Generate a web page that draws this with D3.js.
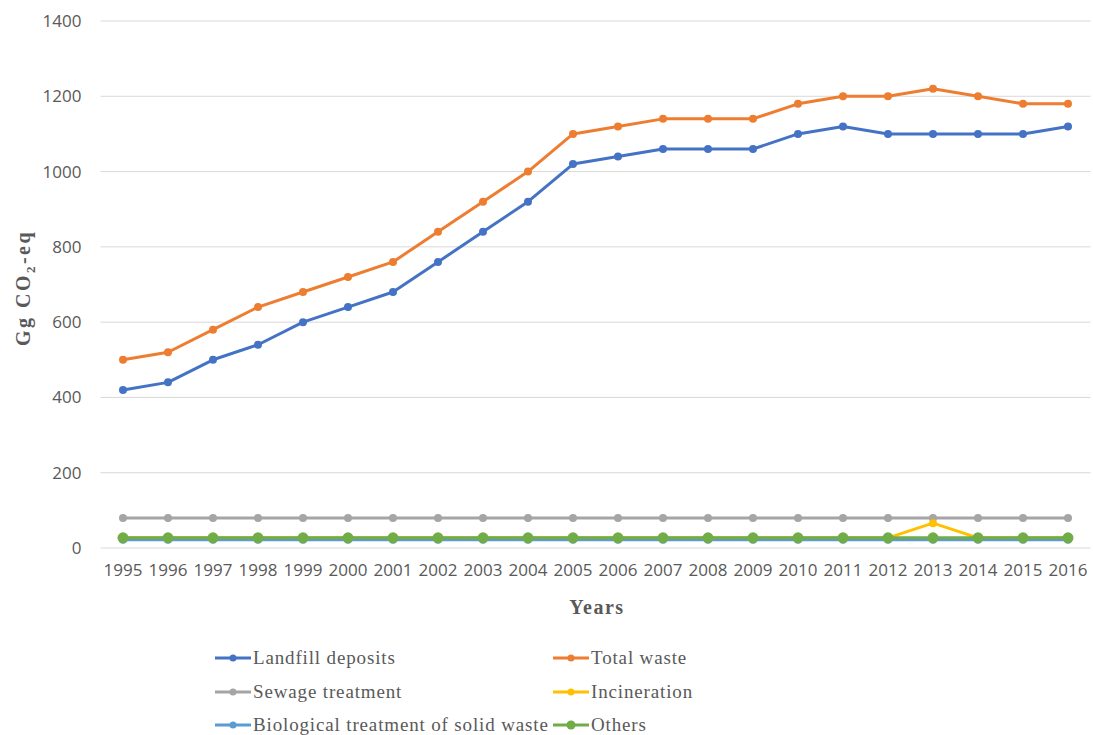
<!DOCTYPE html>
<html>
<head>
<meta charset="utf-8">
<script src="https://cdn.jsdelivr.net/npm/d3@7"></script>
<style>
  body { margin: 0; background: #fff; }
  svg { display: block; }
</style>
</head>
<body>
<svg id="chart" width="1093" height="735"></svg>
<script>
// Waste sector emissions, Gg CO2-eq, 1995–2016
const years = ["1995","1996","1997","1998","1999","2000","2001","2002","2003","2004","2005",
               "2006","2007","2008","2009","2010","2011","2012","2013","2014","2015","2016"];
const landfill   = [420,440,500,540,600,640,680,760,840,920,1020,1040,1060,1060,1060,1100,1120,1100,1100,1100,1100,1120];
const totalWaste = [500,520,580,640,680,720,760,840,920,1000,1100,1120,1140,1140,1140,1180,1200,1200,1220,1200,1180,1180];
const sewage     = [80,80,80,80,80,80,80,80,80,80,80,80,80,80,80,80,80,80,80,80,80,80];
const incineration = [27,27,27,27,27,27,27,27,27,27,27,27,27,27,27,27,27,27,66,27,27,27];
const biological = [22,22,22,22,22,22,22,22,22,22,22,22,22,22,22,22,22,22,22,22,22,22];
const others     = [27,27,27,27,27,27,27,27,27,27,27,27,27,27,27,27,27,27,27,27,27,27];
const yTicks = [0,200,400,600,800,1000,1200,1400];

const series = [
  { name: "Landfill deposits", values: landfill, color: "#4472C4", r: 4 },
  { name: "Total waste", values: totalWaste, color: "#ED7D31", r: 4 },
  { name: "Sewage treatment", values: sewage, color: "#A5A5A5", r: 4 },
  { name: "Incineration", values: incineration, color: "#FFC000", r: 4 },
  { name: "Biological treatment of solid waste", values: biological, color: "#5B9BD5", r: 4 },
  { name: "Others", values: others, color: "#70AD47", r: 5.5 }
];

const svg = d3.select("#chart");
const plot = { left: 100.5, right: 1090.5, top: 21, bottom: 548 };

const x = d3.scaleBand().domain(years).range([plot.left, plot.right]);
const y = d3.scaleLinear().domain([0, 1400]).range([plot.bottom, plot.top]);
const cx = d => x(d) + x.bandwidth() / 2;

const tickFont = "'Open Sans', 'Liberation Sans', Arial, sans-serif";
const serifFont = "'Liberation Serif', 'Times New Roman', serif";

// Horizontal gridlines
svg.append("g")
  .selectAll("line")
  .data(yTicks)
  .join("line")
  .attr("x1", plot.left).attr("x2", plot.right)
  .attr("y1", d => y(d)).attr("y2", d => y(d))
  .attr("stroke", "#d9d9d9").attr("stroke-width", 1);

// Y axis labels
const yAxis = svg.append("g")
  .attr("transform", `translate(${plot.left},0)`)
  .call(d3.axisLeft(y).tickValues(yTicks).tickSize(0).tickPadding(19).tickFormat(d3.format("d")));
yAxis.select(".domain").remove();
yAxis.selectAll("text")
  .attr("fill", "#595959")
  .style("font-family", tickFont)
  .style("font-size", "17px");

// X axis labels
const xAxis = svg.append("g")
  .attr("transform", `translate(0,${plot.bottom})`)
  .call(d3.axisBottom(x).tickSize(0).tickPadding(16));
xAxis.select(".domain").remove();
xAxis.selectAll("text")
  .attr("fill", "#595959")
  .style("font-family", tickFont)
  .style("font-size", "17px");

// Axis titles
svg.append("text")
  .attr("x", 597).attr("y", 614)
  .attr("text-anchor", "middle")
  .attr("fill", "#595959")
  .style("font-family", serifFont)
  .style("font-size", "20px").style("font-weight", "bold")
  .style("letter-spacing", "1.5px")
  .text("Years");

const yTitle = svg.append("text")
  .attr("transform", "translate(30,288) rotate(-90)")
  .attr("text-anchor", "middle")
  .attr("fill", "#595959")
  .style("font-family", serifFont)
  .style("font-size", "20px").style("font-weight", "bold")
  .style("letter-spacing", "2.5px");
yTitle.append("tspan").text("Gg CO");
yTitle.append("tspan").attr("dy", 5).style("font-size", "13px").text("2");
yTitle.append("tspan").attr("dy", -5).text("-eq");

// Lines and markers
const line = d3.line().x((d, i) => cx(years[i])).y(d => y(d));
series.forEach(s => {
  const g = svg.append("g");
  g.append("path")
    .datum(s.values)
    .attr("d", line)
    .attr("fill", "none")
    .attr("stroke", s.color)
    .attr("stroke-width", 3)
    .attr("stroke-linejoin", "round");
  g.selectAll("circle")
    .data(s.values)
    .join("circle")
    .attr("cx", (d, i) => cx(years[i]))
    .attr("cy", d => y(d))
    .attr("r", s.r)
    .attr("fill", s.color);
});

// Legend, two columns
const legend = svg.append("g");
const legendCols = [215, 553];
const legendRows = [658, 692, 725];
series.forEach((s, i) => {
  const lx = legendCols[i % 2];
  const ly = legendRows[Math.floor(i / 2)];
  const item = legend.append("g").attr("transform", `translate(${lx},${ly})`);
  item.append("line")
    .attr("x1", 0).attr("x2", 36).attr("y1", 0).attr("y2", 0)
    .attr("stroke", s.color).attr("stroke-width", 3);
  item.append("circle").attr("cx", 18).attr("cy", 0).attr("r", s.r === 4 ? 3.5 : 4.5).attr("fill", s.color);
  item.append("text")
    .attr("x", 38).attr("y", 6)
    .attr("fill", "#595959")
    .style("font-family", serifFont)
    .style("font-size", "19px")
    .style("letter-spacing", "0.85px")
    .text(s.name);
});
</script>
</body>
</html>
